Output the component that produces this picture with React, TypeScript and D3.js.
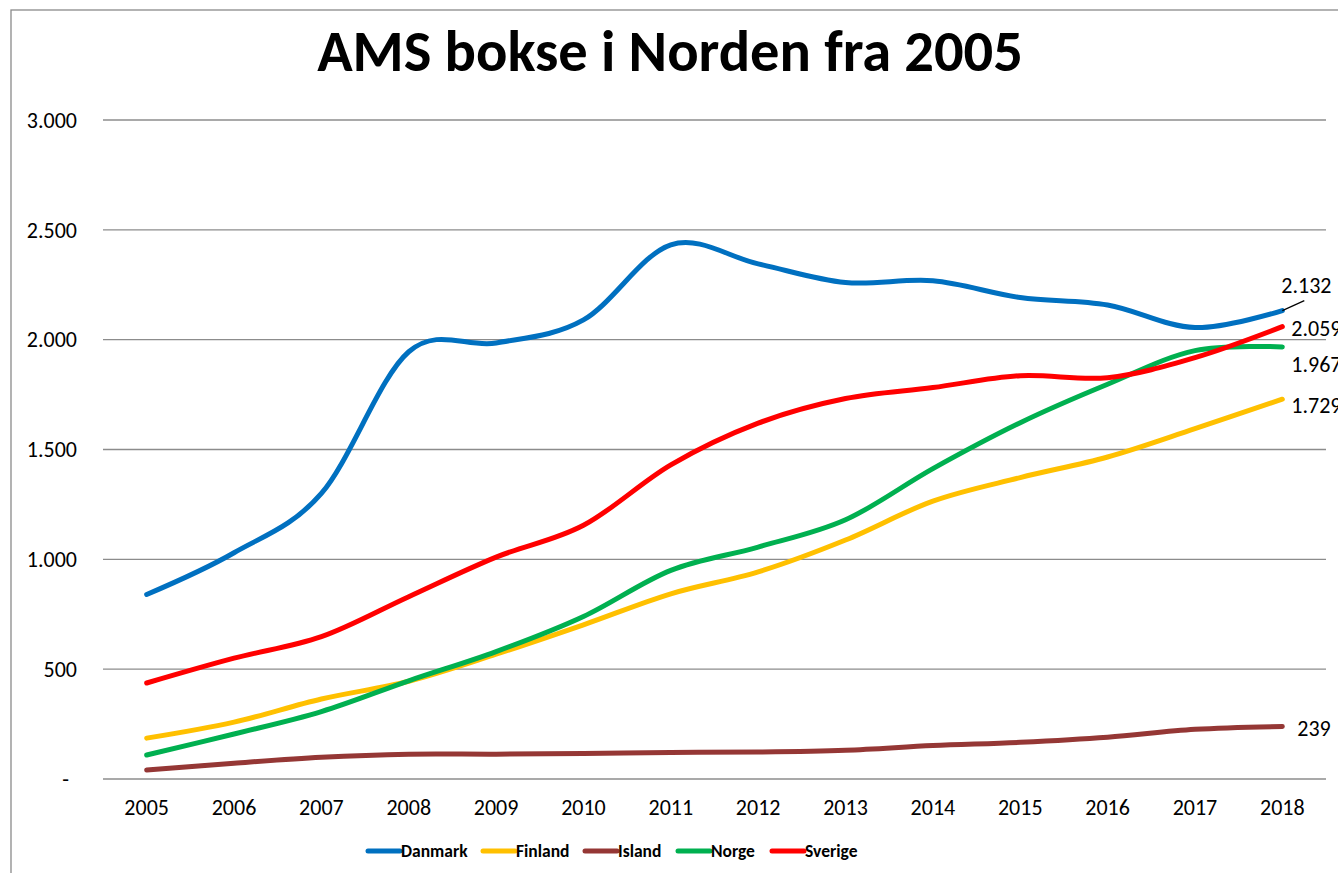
import React from "react";
import * as d3 from "d3";

const years = ["2005","2006","2007","2008","2009","2010","2011","2012","2013","2014","2015","2016","2017","2018"];
const danmark = [840, 1030, 1300, 1945, 1985, 2090, 2432, 2345, 2260, 2268, 2192, 2158, 2055, 2132];
const finland = [186, 259, 364, 445, 568, 702, 843, 943, 1088, 1265, 1372, 1466, 1595, 1729];
const island = [41, 72, 99, 113, 113, 116, 121, 123, 131, 152, 167, 190, 226, 239];
const norge = [109, 205, 307, 447, 580, 740, 950, 1056, 1180, 1413, 1622, 1797, 1950, 1967];
const sverige = [437, 550, 648, 830, 1010, 1155, 1430, 1620, 1732, 1782, 1836, 1827, 1918, 2059];
const seriesNames = ["Danmark", "Finland", "Island", "Norge", "Sverige"];
const seriesColors = ["#0070C0", "#FFC000", "#953735", "#00B050", "#FF0000"];
const yTicks = [0, 500, 1000, 1500, 2000, 2500, 3000];
const title = "AMS bokse i Norden fra 2005";

const W = 1338, H = 873;
const FONT = "Carlito, Calibri, 'Open Sans', sans-serif";

const locale = d3.formatLocale({ decimal: ",", thousands: ".", grouping: [3], currency: ["", ""] });
const fmt = locale.format(",.0f");

export default function App() {
  const seriesValues = [danmark, finland, island, norge, sverige];
  const x = d3.scaleBand().domain(years).range([103, 1326]);
  const xc = (yr: string) => (x(yr) as number) + x.bandwidth() / 2;
  const y = d3.scaleLinear().domain([0, 3000]).range([779, 120]);
  const line = d3.line<number>()
    .x((_, i) => xc(years[i]))
    .y((d) => y(d))
    .curve(d3.curveCardinal.tension(0));

  const last = years[years.length - 1];
  const labelOff: [number, number][] = [[-1, -25], [9, 6], [15, 2], [9, 17], [9, 2]];
  const legendX = [368, 483, 585, 678, 772];

  return (
    <svg width={W} height={H} style={{ position: "absolute", left: 0, top: 0, background: "#fff" }}>
      <rect x={11} y={10} width={W + 20} height={H + 20} fill="#fff" stroke="#8a8a8a" strokeWidth={1.3} />
      <text x={670} y={71} textAnchor="middle" fontFamily={FONT} fontWeight="bold" fontSize={58.5} fill="#000">{title}</text>
      {yTicks.map((t) => (
        <g key={t}>
          <line x1={103} x2={1326} y1={y(t)} y2={y(t)} stroke="#8c8c8c" strokeWidth={1.3} />
          <text x={t === 0 ? 69 : 77} y={y(t)} dy="0.35em" textAnchor="end" fontFamily={FONT} fontSize={22} fill="#000">
            {t === 0 ? "-" : fmt(t)}
          </text>
        </g>
      ))}
      {years.map((yr) => (
        <text key={yr} x={xc(yr)} y={807} dy="0.35em" textAnchor="middle" fontFamily={FONT} fontSize={22} fill="#000">{yr}</text>
      ))}
      {seriesValues.map((vals, i) => (
        <path key={seriesNames[i]} d={line(vals) || ""} fill="none" stroke={seriesColors[i]} strokeWidth={5} strokeLinecap="round" strokeLinejoin="round" />
      ))}
      {seriesValues.map((vals, i) => {
        const v = vals[vals.length - 1];
        const px = xc(last), py = y(v);
        return (
          <g key={"lab" + i}>
            {i === 0 && <line x1={px} y1={py} x2={px + 22} y2={py - 10} stroke="#000" strokeWidth={1.2} />}
            <text x={px + labelOff[i][0]} y={py + labelOff[i][1]} dy="0.35em" textAnchor="start" fontFamily={FONT} fontSize={22} fill="#000">
              {fmt(v)}
            </text>
          </g>
        );
      })}
      {seriesNames.map((n, i) => (
        <g key={"leg" + n}>
          <line x1={legendX[i]} x2={legendX[i] + 32} y1={851} y2={851} stroke={seriesColors[i]} strokeWidth={5} strokeLinecap="round" />
          <text x={legendX[i] + 33} y={851} dy="0.35em" fontFamily={FONT} fontWeight="bold" fontSize={17.5} fill="#000">{n}</text>
        </g>
      ))}
    </svg>
  );
}
